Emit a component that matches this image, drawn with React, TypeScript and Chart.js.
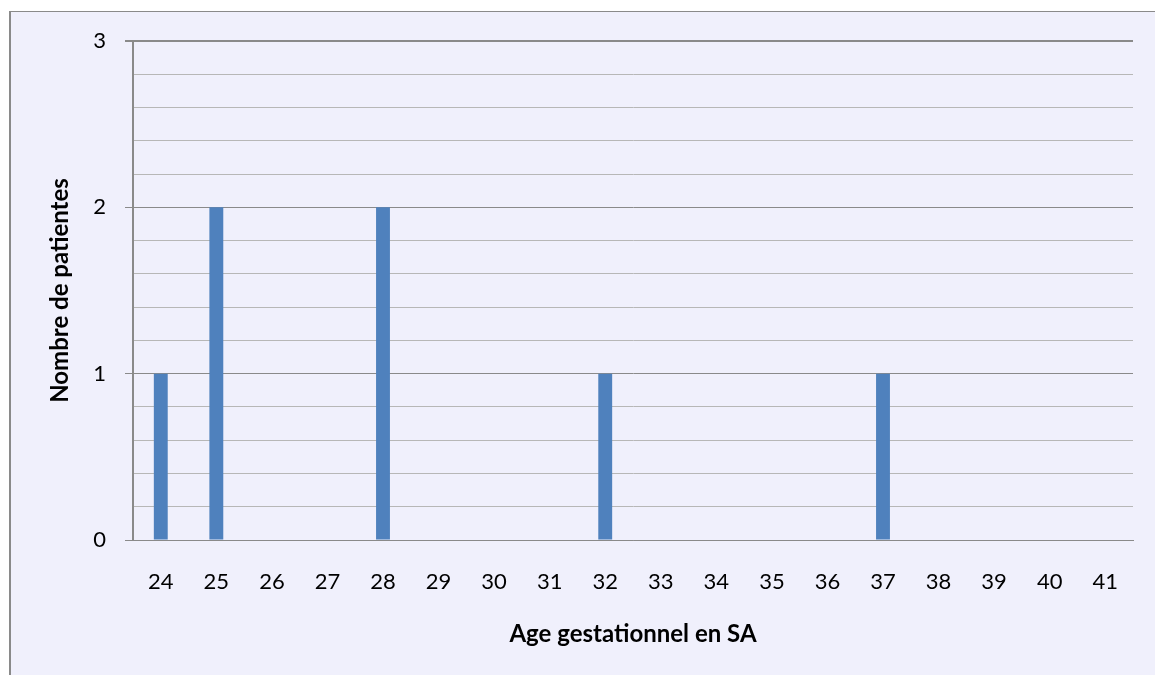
import React, { useEffect, useRef } from "react";
import { Chart, registerables } from "chart.js";

Chart.register(...registerables);

const categories: string[] = ["24", "25", "26", "27", "28", "29", "30", "31", "32", "33", "34", "35", "36", "37", "38", "39", "40", "41"];
const patientCounts: number[] = [1, 2, 0, 0, 2, 0, 0, 0, 1, 0, 0, 0, 0, 1, 0, 0, 0, 0];
const yTitle = "Nombre de patientes";
const xTitle = "Age gestationnel en SA";

const FONT = "Lato, 'Open Sans', sans-serif";
const MAJOR = "#8a8a8a";
const MINOR = "#b7b7b7";

const isInt = (v: number) => Math.abs(v - Math.round(v)) < 1e-6;

export default function App() {
  const ref = useRef<HTMLCanvasElement | null>(null);

  useEffect(() => {
    if (!ref.current) return;
    const chart = new Chart(ref.current, {
      type: "bar",
      data: {
        labels: categories,
        datasets: [
          {
            data: patientCounts,
            backgroundColor: "#4f81bd",
            borderWidth: 0,
            barPercentage: 0.25,
            categoryPercentage: 1,
          },
        ],
      },
      options: {
        animation: false,
        responsive: false,
        maintainAspectRatio: false,
        layout: { padding: { top: 41, right: 22, left: 40, bottom: 0 } },
        plugins: { legend: { display: false }, tooltip: { enabled: false } },
        scales: {
          x: {
            grid: { display: false, drawTicks: false },
            border: { display: true, color: MAJOR, width: 1 },
            ticks: { color: "#000", padding: 29, font: { family: FONT, size: 22 } },
            title: {
              display: true,
              text: xTitle,
              color: "#000",
              font: { family: FONT, size: 24, weight: "bold" },
              padding: { top: 0, bottom: 26 },
            },
            afterFit: (s: any) => {
              s.height = 135;
            },
          },
          y: {
            min: 0,
            max: 3,
            ticks: {
              stepSize: 0.2,
              color: "#000",
              padding: 19,
              font: { family: FONT, size: 22 },
              callback: (v: any) => (isInt(Number(v)) ? String(Math.round(Number(v))) : ""),
            },
            grid: {
              drawTicks: true,
              tickLength: 8,
              color: (ctx: any) => (ctx.tick && isInt(ctx.tick.value) ? MAJOR : MINOR),
              tickColor: (ctx: any) => (ctx.tick && isInt(ctx.tick.value) ? MAJOR : "rgba(0,0,0,0)"),
              lineWidth: (ctx: any) => (ctx.tick && Math.abs(ctx.tick.value - 3) < 1e-6 ? 2 : 1),
            },
            border: { display: true, color: MAJOR, width: 2 },
            title: {
              display: true,
              text: yTitle,
              color: "#000",
              font: { family: FONT, size: 24, weight: "bold" },
              padding: { top: 6, bottom: 0 },
            },
            afterFit: (s: any) => {
              s.width = 93;
            },
          },
        },
      },
    });
    return () => chart.destroy();
  }, []);

  return (
    <div style={{ position: "absolute", left: 0, top: 0, width: 1155, height: 675, background: "#fff", overflow: "hidden" }}>
      <div
        style={{
          position: "absolute",
          left: 9,
          top: 11,
          width: 1160,
          height: 680,
          background: "#f0f0fc",
          borderLeft: "2px solid #8a8a8a",
          borderTop: "1px solid #8a8a8a",
        }}
      />
      <canvas ref={ref} width={1155} height={675} style={{ position: "absolute", left: 0, top: 0, width: 1155, height: 675 }} />
    </div>
  );
}
